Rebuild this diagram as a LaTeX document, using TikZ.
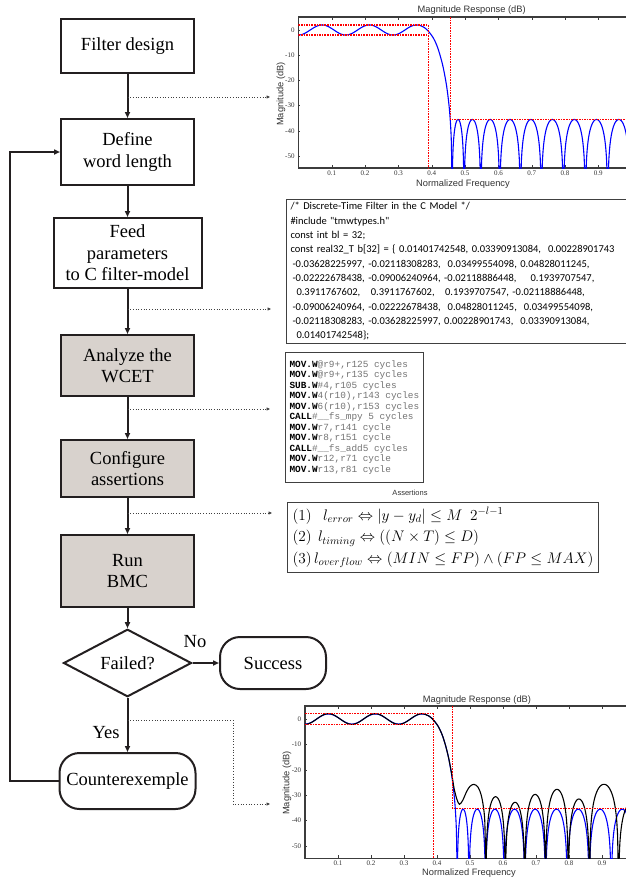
\RequirePackage{fix-cm}
\documentclass[tikz,border=0pt]{standalone}
\usepackage[no-math]{fontspec}
\setmainfont{Liberation Serif}
\newfontfamily\codefont{Carlito}
\newfontfamily\asmfont{Liberation Mono}
\newfontfamily\plotfont{Liberation Sans}
\usepackage{amsmath}
\usepackage{amssymb}
\usetikzlibrary{arrows.meta,positioning,shapes.geometric}

\definecolor{ink}{RGB}{35,31,32}
\definecolor{boxgray}{RGB}{216,210,205}
\definecolor{axisgray}{RGB}{60,60,60}

\newcommand{\flowfont}{\fontsize{18.5}{21.5}\selectfont}
\newcommand{\op}[2]{\textbf{#1}{\color{black!55}#2}}

\tikzset{%
    stage/.style={%
        rectangle,
        draw=ink,
        line width=2pt,
        fill=white,
        align=center,
        inner sep=0pt,
        font=\flowfont
    },
    shaded/.style={%
        stage,
        fill=boxgray
    },
    check/.style={%
        diamond,
        draw=ink,
        line width=2pt,
        inner sep=0pt,
        minimum width=128pt,
        minimum height=60pt,
        font=\flowfont
    },
    terminal/.style={%
        stage,
        rounded corners=20pt
    },
    flow/.style={%
        draw=ink,
        line width=2pt,
        -{Triangle[length=6pt,width=5pt]}
    },
    link/.style={%
        draw=black!75,
        line width=0.7pt,
        dotted,
        -{Triangle[length=3.5pt,width=3pt]}
    },
    listing/.style={%
        rectangle,
        draw=black!75,
        line width=1pt,
        align=left,
        anchor=north west
    },
    axisline/.style={draw=axisgray, line width=1.2pt},
    ticklabel/.style={font=\fontsize{7}{8}\selectfont, text=black!80, inner sep=1pt},
    plotlabel/.style={font=\plotfont\fontsize{9.3}{11}\selectfont, text=black!80, inner sep=0pt},
    spec/.style={draw=red, line width=1.1pt, dash pattern=on 1.6pt off 1pt},
    respblue/.style={draw=blue, line width=1.1pt, line join=round},
    respblack/.style={draw=black, line width=1.1pt, line join=round}
}

% frame, ticks and tick labels of one magnitude plot
\newcommand{\magaxes}[2]{%
    \draw[axisline] (#1,5.15) -- (0,5.15) -- (0,-54.8) -- (#1,-54.8);
    \foreach \k in {1,...,9} {
        \draw[axisline, line width=0.4pt] (\k/10,-54.8) -- ++(0,1.2) (\k/10,5.15) -- ++(0,-1.2);
        \node[ticklabel, anchor=north] (#2x\k) at (\k/10,-55.4) {0.\k};
    }
    \foreach \d [count=\i] in {0,-10,-20,-30,-40,-50} {
        \draw[axisline, line width=0.4pt] (0,\d) -- ++(0.006,0);
        \node[ticklabel, anchor=east] (#2y\i) at (-0.008,\d) {\d};
    }
}

% designed (floating point) response
\newcommand{\blueresp}{%
    \draw[respblue] plot[domain=0:0.355, samples=80] (\x,{-2*cos(360*\x/0.142)});
    \draw[respblue] plot[smooth] coordinates {(0.355,2) (0.365,1.8) (0.375,1.2) (0.385,0.2)
        (0.395,-1.3) (0.405,-3.2) (0.415,-6) (0.425,-10) (0.435,-15.2) (0.445,-22.5)
        (0.452,-30) (0.456,-36.5) (0.459,-45) (0.461,-62)};
    \draw[respblue] foreach \a/\b in {0.461/0.497, 0.497/0.547, 0.547/0.604, 0.604/0.666,
        0.666/0.729, 0.729/0.795, 0.795/0.861, 0.861/0.928, 0.928/0.995, 0.995/1.06} {
        plot[domain=\a:\b, samples=40] (\x,{-35.5+20*log10(max(sin(180*(\x-\a)/(\b-\a)),0.0004))})
    };
}

\begin{document}
\begin{tikzpicture}[x=1pt, y=-1pt]
    \useasboundingbox (0,0) rectangle (626,881);
    \clip (0,0) rectangle (626,881);

    % flow of the verification
    \node[stage, minimum width=133pt, minimum height=54pt] (design) at (127.5,46) {Filter design};
    \node[stage, minimum width=133pt, minimum height=66pt] (wordlen) at (127.5,152) {Define\\word length};
    \node[stage, minimum width=148pt, minimum height=70pt] (feed) at (127.5,253) {Feed\\parameters\\to C filter-model};
    \node[shaded, minimum width=133pt, minimum height=61pt] (wcet) at (127.5,365.5) {Analyze the\\WCET};
    \node[shaded, minimum width=133pt, minimum height=57pt] (config) at (127.5,468.5) {Configure\\assertions};
    \node[shaded, minimum width=133pt, minimum height=72pt] (bmc) at (127.5,571) {Run\\BMC};
    \node[check] (failed) at (127.5,663) {Failed?};
    \node[terminal, minimum width=106pt, minimum height=52pt] (success) at (273,663) {Success};
    \node[terminal, minimum width=136pt, minimum height=56pt] (cex) at (127.5,781) {Counterexemple};
    \node[font=\flowfont] (no) at (195,642) {No};
    \node[font=\flowfont] (yes) at (106,733) {Yes};

    \draw[flow] (design) -- (wordlen);
    \draw[flow] (wordlen) -- (feed);
    \draw[flow] (feed) -- (wcet);
    \draw[flow] (wcet) -- (config);
    \draw[flow] (config) -- (bmc);
    \draw[flow] (bmc) -- (failed);
    \draw[flow] (failed) -- (success);
    \draw[flow] (failed) -- (cex);
    \draw[flow] (cex.west) -- ++(-49,0) |- (wordlen.west);

    % C model
    \node[listing, inner xsep=4pt, inner ysep=3pt, text width=345pt,
          font=\codefont\fontsize{10.5}{14.3}\selectfont] (code) at (286,199) {%
        /* Discrete-Time Filter in the C Model */\\
        \#include "tmwtypes.h"\\
        const int bl = 32;\\
        const real32\_T b[32] = \{ 0.01401742548, 0.03390913084, ~0.00228901743\\
        \hspace*{2pt}-0.03628225997, -0.02118308283, ~0.03499554098, 0.04828011245,\\
        \hspace*{2pt}-0.02222678438, -0.09006240964, -0.02118886448, ~~~0.1939707547,\\
        \hspace*{6pt}0.3911767602, ~~0.3911767602, ~~0.1939707547, -0.02118886448,\\
        \hspace*{2pt}-0.09006240964, -0.02222678438, ~0.04828011245, ~0.03499554098,\\
        \hspace*{2pt}-0.02118308283, -0.03628225997, 0.00228901743, ~0.03390913084,\\
        \hspace*{6pt}0.01401742548\};};

    % cycle count of the assembly
    \node[listing, inner xsep=4pt, inner ysep=5pt, minimum height=130pt,
          font=\asmfont\fontsize{9.4}{10.5}\selectfont] (cycles) at (285,352) {%
        \op{MOV.W}{@r9+,r125 cycles}\\
        \op{MOV.W}{@r9+,r135 cycles}\\
        \op{SUB.W}{\#4,r105 cycles}\\
        \op{MOV.W}{4(r10),r143 cycles}\\
        \op{MOV.W}{6(r10),r153 cycles}\\
        \op{CALL}{\#\_\_fs\_mpy 5 cycles}\\
        \op{MOV.W}{r7,r141 cycle}\\
        \op{MOV.W}{r8,r151 cycle}\\
        \op{CALL}{\#\_\_fs\_add5 cycles}\\
        \op{MOV.W}{r12,r71 cycle}\\
        \op{MOV.W}{r13,r81 cycle}};

    % properties
    \node[listing, inner xsep=5pt, inner ysep=5pt,
          font=\fontsize{15.3}{21.5}\selectfont] (props) at (287,502) {%
        $(1)\ \ \ l_{error} \Leftrightarrow |y-y_d| \leq M\ \ 2^{-l-1}$\\
        $(2)\ \, l_{timing} \Leftrightarrow ((N\times T)\leq D)$\\
        $(3)\, l_{overflow} \Leftrightarrow (MIN \leq FP)\wedge(FP\leq MAX)$};
    \node[plotlabel, font=\plotfont\fontsize{7.5}{9}\selectfont] (propstitle) at (410,493) {Assertions};

    % designed response
    \node[plotlabel] (title1) at (471.7,10) {Magnitude Response (dB)};
    \node[plotlabel] (xlab1) at (463,184) {Normalized Frequency};
    \node[plotlabel, rotate=90] (ylab1) at (281,94) {Magnitude (dB)};
    \begin{scope}[shift={(298.4pt,-30pt)}, x=333.3pt, y=2.52pt]
        \magaxes{0.983}{pa}
        \begin{scope}
            \clip (0,-54.8) rectangle (0.983,5.15);
            \blueresp
            \draw[spec] (0,2) -- (0.39,2) -- (0.39,-54.8) (0,-2) -- (0.39,-2);
            \draw[spec] (0.455,5.15) -- (0.455,-35.5) -- (0.983,-35.5);
        \end{scope}
    \end{scope}

    % quantized response
    \node[plotlabel] (title2) at (477,700) {Magnitude Response (dB)};
    \node[plotlabel] (xlab2) at (469,873) {Normalized Frequency};
    \node[plotlabel, rotate=90] (ylab2) at (287,783) {Magnitude (dB)};
    \begin{scope}[shift={(305pt,-719pt)}, x=330pt, y=2.54pt]
        \magaxes{0.973}{pb}
        \begin{scope}
            \clip (0,-54.8) rectangle (0.973,5.15);
            \blueresp
            \draw[respblack] plot[domain=0:0.355, samples=80] (\x,{-2.1*cos(360*\x/0.142)});
            \draw[respblack] plot[smooth] coordinates {(0.355,2.1) (0.365,1.8) (0.375,1.2) (0.385,0.2)
                (0.395,-1.3) (0.405,-3.2) (0.415,-6) (0.425,-10) (0.435,-15.2) (0.445,-22)
                (0.452,-27.5) (0.46,-31.5) (0.468,-33.6) (0.478,-32) (0.49,-28.5) (0.50,-26.5)
                (0.512,-25.7) (0.524,-26.8) (0.533,-29.5) (0.540,-34) (0.545,-41) (0.548,-62)};
            \draw[respblack] foreach \a/\b/\p in {0.548/0.607/-30.6, 0.607/0.666/-32.8,
                0.666/0.729/-29.7, 0.729/0.798/-27.7, 0.798/0.862/-31.5, 0.862/0.950/-25.7,
                0.950/1.03/-33} {
                plot[domain=\a:\b, samples=40] (\x,{\p+20*log10(max(sin(180*(\x-\a)/(\b-\a)),0.0004))})
            };
            \draw[spec] (0,2) -- (0.389,2) -- (0.389,-54.8) (0,-2) -- (0.389,-2);
            \draw[spec] (0.448,5.15) -- (0.448,-35.4) -- (0.973,-35.4);
        \end{scope}
    \end{scope}

    % where each step leaves its result
    \coordinate (tap1) at (127.5,97);
    \coordinate (tap2) at (127.5,309);
    \coordinate (tap3) at (127.5,409);
    \coordinate (tap4) at (127.5,513);
    \coordinate (tap5) at (127.5,720);
    \coordinate (resp1) at (270,97);
    \coordinate (resp2) at (270,804);
    \draw[link] (tap1) -- (resp1);
    \draw[link, shorten >=15pt] (tap2) -- (tap2 -| code.west);
    \draw[link, shorten >=15pt] (tap3) -- (tap3 -| cycles.west);
    \draw[link, shorten >=15pt] (tap4) -- (tap4 -| props.west);
    \draw[link] (tap5) -- ++(105.5,0) |- (resp2);
\end{tikzpicture}
\end{document}
